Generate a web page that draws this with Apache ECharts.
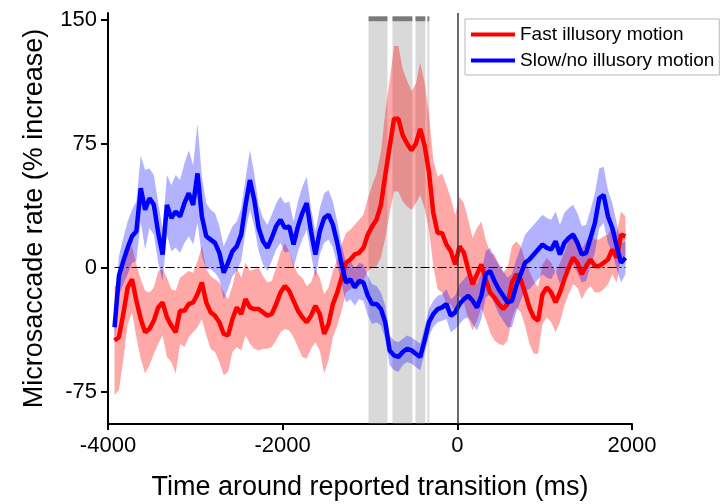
<!DOCTYPE html>
<html>
<head>
<meta charset="utf-8">
<script src="https://cdn.jsdelivr.net/npm/echarts@6/dist/echarts.min.js"></script>
<style>
html,body{margin:0;padding:0;background:#fff;}
#chart{width:724px;height:504px;}
</style>
</head>
<body>
<div id="chart"></div>
<script>
// Time points (ms around reported transition)
const times = [
-3925,-3875,-3825,-3775,-3725,-3675,-3625,-3575,-3525,-3475,
-3425,-3375,-3325,-3275,-3225,-3175,-3125,-3075,-3025,-2975,
-2925,-2875,-2825,-2775,-2725,-2675,-2625,-2575,-2525,-2475,
-2425,-2375,-2325,-2275,-2225,-2175,-2125,-2075,-2025,-1975,
-1925,-1875,-1825,-1775,-1725,-1675,-1625,-1575,-1525,-1475,
-1425,-1375,-1325,-1275,-1225,-1175,-1125,-1075,-1025,-975,
-925,-875,-825,-775,-725,-675,-625,-575,-525,-475,
-425,-375,-325,-275,-225,-175,-125,-75,-25,25,
75,125,175,225,275,325,375,425,475,525,
575,625,675,725,775,825,875,925,975,1025,
1075,1125,1175,1225,1275,1325,1375,1425,1475,1525,
1575,1625,1675,1725,1775,1825,1875,1925
];
// Fast illusory motion: mean and half-width of shaded band
const fastMean = [
-44,-42,-28,-12,-7,-20,-31,-39,-37,-32,
-24,-21,-30,-35,-39,-26,-26,-22,-21,-16,
-9,-21,-27,-29,-33,-40,-41,-31,-24,-28,
-19,-24,-25,-25,-27,-29,-28,-22,-15,-11,
-14,-20,-26,-30,-33,-29,-23,-28,-40,-34,
-22,-15,-6,3,5,8,9,12,20,25,
29,38,56,73,90,90,80,75,71,75,
84,74,58,33,21,21,14,10,2,13,
9,-1,-10,-4,2,-7,-15,-18,-22,-25,
-22,-9,-4,-7,-15,-24,-30,-32,-16,-12,
-15,-21,-15,-7,0,6,3,-4,1,5,
1,1,3,5,11,6,20,19
];
const fastErr = [
33,32,28,22,20,22,24,25,22,20,
22,20,24,22,25,20,22,20,18,20,
22,20,22,22,24,25,22,20,24,22,
22,22,24,25,22,20,20,22,24,26,
24,22,22,24,22,20,22,22,24,22,
20,20,20,18,18,18,20,20,22,25,
28,32,38,40,44,44,40,38,36,36,
40,38,35,32,34,36,36,32,30,30,
30,30,28,28,26,24,24,26,24,22,
22,22,20,20,20,22,22,20,18,18,
18,18,18,16,16,16,15,15,15,16,
16,16,16,15,15,15,14,12
];
// Slow/no illusory motion: mean and half-width of shaded band
const slowMean = [
-36,-5,4,12,19,22,48,35,42,38,
21,8,38,30,34,31,39,45,38,57,
31,19,17,15,9,-3,3,10,13,20,
38,53,41,24,16,12,18,25,29,24,
25,14,25,33,39,22,8,22,30,32,
26,15,2,-9,-7,-12,-8,-9,-17,-22,
-22,-25,-33,-50,-53,-54,-51,-49,-50,-52,
-54,-44,-33,-28,-25,-24,-22,-29,-27,-22,
-19,-17,-20,-24,-17,-4,-2,-8,-13,-17,
-21,-20,-11,-4,3,5,8,11,14,12,
11,16,8,15,18,20,15,8,9,18,
27,42,44,31,24,13,3,6
];
const slowErr = [
10,12,14,16,16,18,20,24,18,18,
18,16,18,20,22,22,24,26,24,30,
24,20,18,18,16,16,16,15,15,16,
16,18,16,14,14,14,14,14,14,15,
15,14,15,16,16,14,14,14,15,15,
14,13,12,12,12,11,11,11,12,12,
11,10,10,9,9,9,8,8,8,8,
8,8,8,8,8,8,9,10,10,12,
12,13,14,14,14,14,14,14,15,15,
15,16,16,16,17,18,18,18,18,18,
18,18,18,18,18,18,18,17,17,17,
18,18,17,16,15,14,12,10
];
// Significance intervals (ms)
const sigBands = [[-1017,-800],[-743,-514],[-480,-366],[-343,-320]];
const yTickValues = [-75, 0, 75, 150];
const seriesNames = ['Fast illusory motion', 'Slow/no illusory motion'];

const FONT = 'Liberation Sans';
const chart = echarts.init(document.getElementById('chart'), null, {renderer:'canvas'});

function pairs(vals){ return times.map((t,i)=>[t, vals[i]]); }
const tStart = times[0], tEnd = times[times.length-1];

function bandSeries(mean, err, color){
  return {
    type:'custom', silent:true, z:1,
    data: [[tStart, 0]],
    encode: {x:0, y:1},
    renderItem: function(params, api){
      const pts = [];
      for (let i = 0; i < times.length; i++) pts.push(api.coord([times[i], mean[i] + err[i]]));
      for (let i = times.length - 1; i >= 0; i--) pts.push(api.coord([times[i], mean[i] - err[i]]));
      return {type:'polygon', shape:{points: pts}, style:{fill: color, stroke: null}};
    }
  };
}

const option = {
  animation: false,
  backgroundColor: '#fff',
  grid: {left:108, right:92, top:13, bottom:80, containLabel:false, outerBoundsMode:'none'},
  legend: {
    data: seriesNames,
    orient: 'vertical',
    left: 465, top: 19,
    padding: [6, 5, 5, 6],
    itemGap: 7,
    itemWidth: 44, itemHeight: 4,
    icon: 'rect',
    borderColor: '#b8b8b8', borderWidth: 1,
    textStyle: {fontFamily: FONT, fontSize: 19, color: '#000'},
    selectedMode: false
  },
  xAxis: {
    type: 'value', min: -4000, max: 2000, interval: 2000,
    name: 'Time around reported transition (ms)',
    nameLocation: 'middle', nameGap: 50,
    nameTextStyle: {fontFamily: FONT, fontSize: 27, color:'#000'},
    axisLine: {show:true, onZero:false, lineStyle:{color:'#000', width:2}},
    axisTick: {show:true, length:6, lineStyle:{color:'#000', width:2}},
    axisLabel: {fontFamily: FONT, fontSize: 22, color:'#000', margin: 11, formatter: v => String(v)},
    splitLine: {show:false}
  },
  yAxis: {
    type: 'value', min: -94.5, max: 154,
    name: 'Microsaccade rate (% increase)',
    nameLocation: 'middle', nameGap: 60,
    nameTextStyle: {fontFamily: FONT, fontSize: 27, color:'#000'},
    axisLine: {show:true, onZero:false, lineStyle:{color:'#000', width:2}},
    axisTick: {show:true, length:7, customValues: yTickValues, lineStyle:{color:'#000', width:2}},
    axisLabel: {fontFamily: FONT, fontSize: 22, color:'#000', margin: 11, customValues: yTickValues, formatter: v => String(v)},
    splitLine: {show:false}
  },
  series: [
    bandSeries(fastMean, fastErr, 'rgba(255,0,0,0.34)'),
    bandSeries(slowMean, slowErr, 'rgba(0,0,255,0.30)'),
    {type:'line', name:'refs', data: [], symbol:'none', silent:true, z:2,
     markLine: {
       silent:true, symbol:'none', label:{show:false},
       data: [
         [{coord:[tStart,0], lineStyle:{color:'#000', width:1.2, type:[9,3,2,3]}}, {coord:[tEnd,0]}],
         {xAxis:0, lineStyle:{color:'#3a3a3a', width:1.5, type:'solid'}}
       ]
     }
    },
    {type:'line', name: seriesNames[0], data: pairs(fastMean), symbol:'none', z:3,
     color:'#ff0000', lineStyle:{color:'#ff0000', width:4.5}, itemStyle:{color:'#ff0000'}},
    {type:'line', name: seriesNames[1], data: pairs(slowMean), symbol:'none', z:3,
     color:'#0000ff', lineStyle:{color:'#0000ff', width:4.5}, itemStyle:{color:'#0000ff'}},
    {type:'line', name:'sig', data: [], symbol:'none', silent:true, z:10,
     markArea: {
       silent:true,
       data: sigBands.map(b=>[{coord:[b[0],149], itemStyle:{color:'rgba(140,140,140,0.33)'}}, {coord:[b[1],-94.5]}])
         .concat(sigBands.map(b=>[{coord:[b[0],152], itemStyle:{color:'#7a7a7a'}}, {coord:[b[1],149]}]))
     }
    }
  ]
};
chart.setOption(option);
</script>
</body>
</html>
